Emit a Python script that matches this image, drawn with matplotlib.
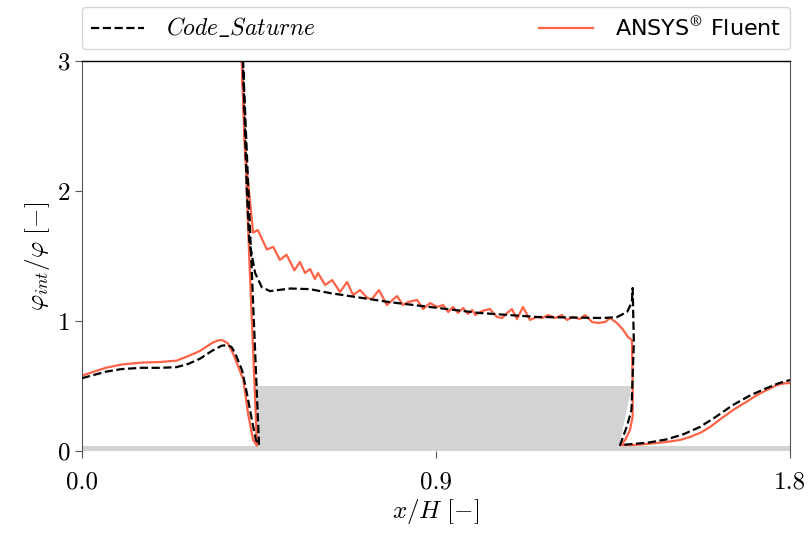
import matplotlib
matplotlib.use("Agg")
import matplotlib.pyplot as plt

plt.rcParams['font.family'] = 'serif'
plt.rcParams['font.serif'] = ['cmr10']
plt.rcParams['mathtext.fontset'] = 'cm'
plt.rcParams['axes.formatter.use_mathtext'] = True

# Code_Saturne profile (black dashed)
cs_x = [0.0, 0.03, 0.06, 0.1, 0.15, 0.2, 0.24, 0.27, 0.3, 0.33, 0.355, 0.37, 0.38, 0.389, 0.407,
        0.419, 0.432, 0.442, 0.45,
        0.43, 0.405, 0.409, 0.419, 0.425, 0.44, 0.457, 0.478, 0.53, 0.58, 0.63, 0.78, 1.01, 1.157,
        1.325, 1.36, 1.386, 1.398, 1.40, 1.403, 1.397, 1.385, 1.368,
        1.40, 1.44, 1.487, 1.53, 1.571, 1.61, 1.655, 1.70, 1.742, 1.77, 1.8]
cs_y = [0.56, 0.585, 0.61, 0.63, 0.64, 0.64, 0.645, 0.67, 0.71, 0.77, 0.81, 0.815, 0.80, 0.754, 0.62,
        0.446, 0.238, 0.085, 0.046,
        1.5, 3.3, 3.0, 2.0, 1.62, 1.37, 1.26, 1.23, 1.25, 1.245, 1.215, 1.146, 1.062, 1.031,
        1.023, 1.03, 1.07, 1.146, 1.254, 0.84, 0.315, 0.187, 0.046,
        0.054, 0.065, 0.09, 0.13, 0.185, 0.26, 0.354, 0.43, 0.485, 0.52, 0.546]

# ANSYS Fluent profile (red)
fl_x = [0.0, 0.03, 0.06, 0.1, 0.15, 0.2, 0.24, 0.27, 0.3, 0.33, 0.345, 0.356, 0.37, 0.384, 0.41,
        0.422, 0.435, 0.445,
        0.425, 0.403, 0.406, 0.414, 0.435, 0.447, 0.47, 0.486, 0.503, 0.52, 0.54, 0.554,
        0.567, 0.580, 0.592, 0.600, 0.618, 0.636, 0.656, 0.674, 0.689, 0.707, 0.725, 0.737,
        0.755, 0.775, 0.801, 0.816, 0.829, 0.852, 0.867, 0.885, 0.903, 0.918, 0.931, 0.943,
        0.956, 0.969, 0.981, 0.992, 1.0, 1.017, 1.037, 1.055, 1.068, 1.081, 1.093, 1.106,
        1.121, 1.139, 1.157, 1.170, 1.185, 1.203, 1.220, 1.233, 1.248, 1.266, 1.279, 1.297,
        1.312, 1.330, 1.342, 1.360, 1.376, 1.388, 1.398, 1.40, 1.40, 1.393, 1.381, 1.37,
        1.40, 1.44, 1.487, 1.52, 1.546, 1.575, 1.597, 1.625, 1.655, 1.69, 1.716, 1.745, 1.767,
        1.785, 1.8]
fl_y = [0.58, 0.61, 0.64, 0.665, 0.68, 0.685, 0.695, 0.73, 0.77, 0.83, 0.85, 0.854, 0.83, 0.75, 0.55,
        0.29, 0.085, 0.04,
        1.5, 3.3, 3.0, 2.32, 1.68, 1.70, 1.55, 1.57, 1.47, 1.51, 1.39, 1.454,
        1.369, 1.40, 1.323, 1.369, 1.277, 1.315, 1.223, 1.30, 1.20, 1.238, 1.177, 1.169,
        1.238, 1.123, 1.192, 1.123, 1.146, 1.162, 1.092, 1.138, 1.108, 1.123, 1.069, 1.108,
        1.062, 1.10, 1.054, 1.085, 1.046, 1.077, 1.092, 1.031, 1.023, 1.062, 1.092, 1.015,
        1.108, 1.008, 1.031, 1.023, 1.046, 1.023, 1.046, 1.008, 1.031, 1.015, 1.046, 0.992,
        0.985, 0.992, 1.023, 0.985, 0.931, 0.877, 0.854, 0.5, 0.264, 0.16, 0.085, 0.046,
        0.046, 0.055, 0.07, 0.085, 0.108, 0.145, 0.185, 0.25, 0.315, 0.38, 0.43, 0.475, 0.508,
        0.52, 0.523]

# obstacle and floor outline
obst_x = [0.44, 0.44, 1.398, 1.363]
obst_y = [0.0, 0.5, 0.5, 0.0]
floor_h = 0.035

fig = plt.figure(figsize=(8.09, 5.33), dpi=100)
ax = fig.add_axes([0.1014, 0.1538, 0.8751, 0.7318])

ax.fill(obst_x, obst_y, color='lightgray', lw=0, zorder=1)
ax.axhspan(0, floor_h, color='lightgray', lw=0, zorder=1)

ax.plot(cs_x, cs_y, 'k--', lw=1.6, label=r'$\mathit{Code\_Saturne}$', zorder=3)
ax.plot(fl_x, fl_y, color='tomato', lw=1.6, label=r'ANSYS$^{\circledR}$ Fluent', zorder=2)

ax.set_xlim(0, 1.8)
ax.set_ylim(0, 3)
ax.set_xticks([0, 0.9, 1.8])
ax.set_xticklabels(['0.0', '0.9', '1.8'])
ax.set_yticks([0, 1, 2, 3])
ax.set_yticklabels(['0', '1', '2', '3'])
ax.tick_params(labelsize=18, color='#555555', length=5, direction='out')
ax.tick_params(axis='x', pad=10)

ax.spines['left'].set_color('#555555')
ax.spines['right'].set_color('#555555')
ax.spines['top'].set_color('black')
ax.spines['top'].set_linewidth(1.0)
ax.spines['bottom'].set_visible(False)

ax.set_xlabel(r'$x/H\ [-]$', fontsize=18, labelpad=2)
ax.set_ylabel(r'$\varphi_{int}/\varphi\ [-]$', fontsize=18, labelpad=4)

leg = ax.legend(bbox_to_anchor=(0, 1.03, 1, 0.1), loc='lower left', mode='expand',
                ncol=2, fontsize=16, frameon=True, borderaxespad=0, handlelength=2.4,
                handletextpad=1.0)
leg.get_frame().set_edgecolor('#cccccc')
leg.get_texts()[0].set_fontsize(17)
leg.get_texts()[1].set_family('DejaVu Sans')

fig.savefig('out.png', dpi=100)
